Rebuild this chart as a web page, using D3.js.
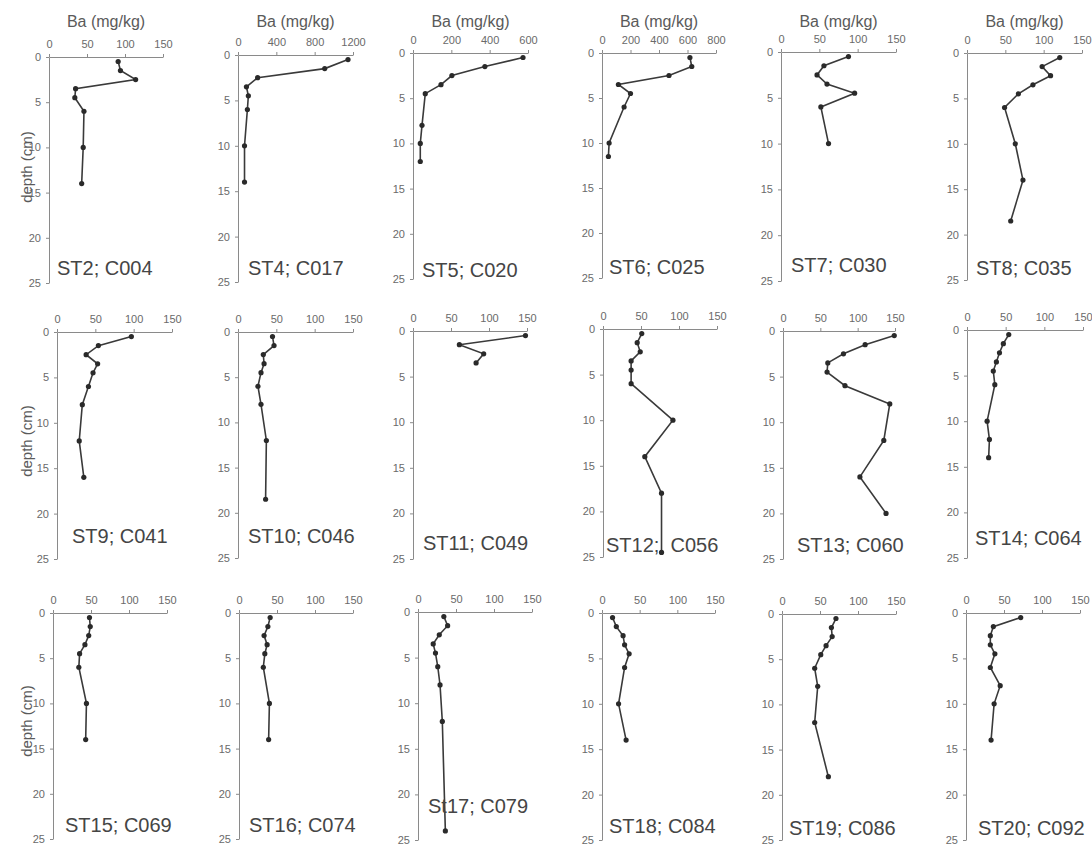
<!DOCTYPE html>
<html>
<head>
<meta charset="utf-8">
<script src="https://cdn.jsdelivr.net/npm/d3@7"></script>
<style>
  body { margin: 0; background: #fff; }
  svg text { font-family: Arial, "Liberation Sans", sans-serif; }
  .axis path, .axis line { stroke: #8a8a8a; stroke-width: 1; }
  .axis text { fill: #6a6a6a; font-size: 11px; }
</style>
</head>
<body>
<div id="vis"></div>
<script>
// Station labels, one per panel (row by row)
var labels = ["ST2; C004", "ST4; C017", "ST5; C020", "ST6; C025", "ST7; C030", "ST8; C035",
              "ST9; C041", "ST10; C046", "ST11; C049", "ST12;\u00a0 C056", "ST13; C060", "ST14; C064",
              "ST15; C069", "ST16; C074", "St17; C079", "ST18; C084", "ST19; C086", "ST20; C092"];

// Sample depths (cm) for each core
var depths = [
    [0.5, 1.5, 2.5, 3.5, 4.5, 6, 10, 14],
    [0.5, 1.5, 2.5, 3.5, 4.5, 6, 10, 14],
    [0.5, 1.5, 2.5, 3.5, 4.5, 8, 10, 12],
    [0.5, 1.5, 2.5, 3.5, 4.5, 6, 10, 11.5],
    [0.5, 1.5, 2.5, 3.5, 4.5, 6, 10],
    [0.5, 1.5, 2.5, 3.5, 4.5, 6, 10, 14, 18.5],
    [0.5, 1.5, 2.5, 3.5, 4.5, 6, 8, 12, 16],
    [0.5, 1.5, 2.5, 3.5, 4.5, 6, 8, 12, 18.5],
    [0.5, 1.5, 2.5, 3.5],
    [0.5, 1.5, 2.5, 3.5, 4.5, 6, 10, 14, 18, 24.5],
    [0.5, 1.5, 2.5, 3.5, 4.5, 6, 8, 12, 16, 20],
    [0.5, 1.5, 2.5, 3.5, 4.5, 6, 10, 12, 14],
    [0.5, 1.5, 2.5, 3.5, 4.5, 6, 10, 14],
    [0.5, 1.5, 2.5, 3.5, 4.5, 6, 10, 14],
    [0.5, 1.5, 2.5, 3.5, 4.5, 6, 8, 12, 24],
    [0.5, 1.5, 2.5, 3.5, 4.5, 6, 10, 14],
    [0.5, 1.5, 2.5, 3.5, 4.5, 6, 8, 12, 18],
    [0.5, 1.5, 2.5, 3.5, 4.5, 6, 8, 10, 14]
];

// Ba concentration (mg/kg) at those depths
var ba = [
    [91, 94, 114, 35, 34, 46, 45, 43],
    [1148, 905, 205, 88, 108, 98, 68, 68],
    [574, 375, 203, 146, 64, 47, 38, 38],
    [617, 630, 470, 115, 200, 155, 50, 45],
    [88, 56, 47, 60, 96, 52, 62],
    [121, 98, 109, 86, 67, 49, 63, 73, 57],
    [97, 54, 38, 53, 47, 41, 33, 29, 35],
    [45, 47, 33, 34, 30, 26, 30, 37, 36],
    [148, 61, 93, 83],
    [51, 45, 49, 37, 37, 37, 92, 55, 77, 77],
    [149, 110, 81, 60, 59, 83, 143, 135, 103, 138],
    [54, 47, 42, 38, 34, 36, 26, 29, 28],
    [48, 49, 47, 42, 35, 34, 44, 43],
    [41, 38, 33, 37, 34, 32, 40, 39],
    [34, 39, 28, 20, 23, 26, 29, 32, 36],
    [14, 19, 28, 30, 36, 30, 22, 32],
    [71, 65, 66, 58, 51, 43, 47, 43, 61],
    [72, 36, 32, 32, 38, 32, 45, 37, 33]
];

// x-axis maximum and tick step of each panel
var xMax  = [150, 1200, 600, 800, 150, 150, 150, 150, 150, 150, 150, 150, 150, 150, 150, 150, 150, 150];
var xStep = [50, 400, 200, 200, 50, 50, 50, 50, 50, 50, 50, 50, 50, 50, 50, 50, 50, 50];
var depthTicks = [0, 5, 10, 15, 20, 25];

// Layout: plot box of each panel [left, right, top(0 cm), bottom(25 cm)] and label position
var boxes = [
    [49, 163, 57, 283], [238, 353, 55, 282], [413, 528, 53, 279],
    [602, 716, 53, 278], [781, 896, 52, 281], [967, 1082, 53, 280],
    [57, 172, 332, 559], [238, 353, 332, 558], [413, 527, 331, 559],
    [603, 717, 329, 557], [783, 895, 331, 559], [967, 1083, 330, 558],
    [53, 167, 613, 839], [239, 353, 613, 839], [418, 532, 612, 840],
    [602, 715, 613, 840], [782, 896, 614, 840], [966, 1080, 613, 840]
];
var labelPos = [
    [57, 275], [248, 275], [422, 277], [609, 274], [791, 272], [976, 275],
    [72, 543], [248, 543], [423, 550], [606, 552], [797, 552], [975, 545],
    [65, 832], [249, 832], [428, 813], [609, 833], [789, 835], [978, 835]
];

var width = 1092, height = 847;

var svg = d3.select("#vis").append("svg")
    .attr("width", width)
    .attr("height", height);

labels.forEach(function(lab, i) {
    var b = boxes[i];
    var x = d3.scaleLinear().domain([0, xMax[i]]).range([b[0], b[1]]);
    var y = d3.scaleLinear().domain([0, 25]).range([b[2], b[3]]);

    var g = svg.append("g").attr("class", "panel");

    // x axis on top
    g.append("g")
        .attr("class", "axis")
        .attr("transform", "translate(0," + b[2] + ")")
        .call(d3.axisTop(x)
            .tickValues(d3.range(0, xMax[i] + 1, xStep[i]))
            .tickFormat(d3.format("d"))
            .tickSize(3)
            .tickSizeOuter(0)
            .tickPadding(6));

    // depth axis
    g.append("g")
        .attr("class", "axis")
        .attr("transform", "translate(" + b[0] + ",0)")
        .call(d3.axisLeft(y)
            .tickValues(depthTicks)
            .tickSize(3)
            .tickSizeOuter(0)
            .tickPadding(5));

    var pts = depths[i].map(function(d, k) { return { d: d, v: ba[i][k] }; });

    g.append("path")
        .datum(pts)
        .attr("fill", "none")
        .attr("stroke", "#3a3a3a")
        .attr("stroke-width", 1.6)
        .attr("d", d3.line()
            .x(function(p) { return x(p.v); })
            .y(function(p) { return y(p.d); }));

    g.selectAll("circle")
        .data(pts)
        .enter().append("circle")
        .attr("cx", function(p) { return x(p.v); })
        .attr("cy", function(p) { return y(p.d); })
        .attr("r", 2.6)
        .attr("fill", "#2a2a2a");

    // station label
    g.append("text")
        .attr("x", labelPos[i][0])
        .attr("y", labelPos[i][1])
        .attr("font-size", 20)
        .attr("fill", "#454545")
        .text(lab);

    // x title only on the top row
    if (i < 6) {
        g.append("text")
            .attr("x", (b[0] + b[1]) / 2)
            .attr("y", 27)
            .attr("text-anchor", "middle")
            .attr("font-size", 16)
            .attr("fill", "#5a5a5a")
            .text("Ba (mg/kg)");
    }

    // depth title only on the first column
    if (i % 6 === 0) {
        var cy = [167, 441, 721][i / 6];
        g.append("text")
            .attr("transform", "translate(27," + cy + ") rotate(-90)")
            .attr("text-anchor", "middle")
            .attr("dy", "0.35em")
            .attr("font-size", 15)
            .attr("fill", "#5a5a5a")
            .text("depth (cm)");
    }
});
</script>
</body>
</html>
